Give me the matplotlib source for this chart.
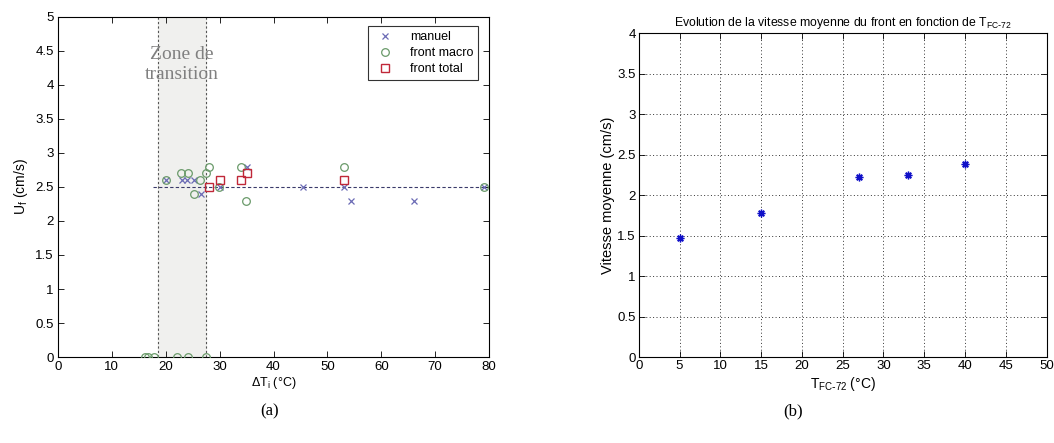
import matplotlib
matplotlib.use("Agg")
import matplotlib.pyplot as plt

# ---- data (a) ----
manuel_x = [20, 23, 24, 25.3, 26.6, 30, 35, 45.5, 53, 54.3, 66, 79]
manuel_y = [2.6, 2.6, 2.6, 2.6, 2.4, 2.5, 2.8, 2.5, 2.5, 2.3, 2.3, 2.5]
macro_x = [20, 22.8, 24.2, 25.3, 26.3, 27.4, 28, 29.9, 33.9, 34.9, 53, 79,
           16.2, 16.8, 17.8, 22, 24.1, 27.4]
macro_y = [2.6, 2.7, 2.7, 2.4, 2.6, 2.7, 2.8, 2.5, 2.8, 2.3, 2.8, 2.5,
           0, 0, 0, 0, 0, 0]
total_x = [28, 30, 34, 35, 53]
total_y = [2.5, 2.6, 2.6, 2.7, 2.6]
mean_level = 2.5
zone_bounds = [18.5, 27.5]

# ---- data (b) ----
tfc = [5, 15, 27, 33, 40]
vit = [1.47, 1.78, 2.22, 2.25, 2.38]

fig = plt.figure(figsize=(10.54, 4.43), dpi=100)
plt.rcParams['font.family'] = ['Liberation Sans', 'DejaVu Sans']

# ---------- (a) ----------
ax1 = fig.add_axes([0.055, 0.194, 0.409, 0.768])
ax1.axvspan(zone_bounds[0], zone_bounds[1], color='#f0f0ee', zorder=0)
for xb in zone_bounds:
    ax1.axvline(xb, color='#555555', ls=(0, (2, 2)), lw=0.8, zorder=1)
ax1.plot([17.6, 80], [mean_level, mean_level], color='#3a3a6a', ls=(0, (3, 2)), lw=0.8, zorder=1)
ax1.plot(manuel_x, manuel_y, ls='none', marker='x', ms=5, mew=0.9, color='#6b6bb5', label='manuel', zorder=3)
ax1.plot(macro_x, macro_y, ls='none', marker='o', ms=5.5, mew=0.9, mfc='none', mec='#6a9a6a', label='front macro', zorder=3)
ax1.plot(total_x, total_y, ls='none', marker='s', ms=5.5, mew=1.0, mfc='none', mec='#c02838', label='front total', zorder=4)
ax1.text(23, 4.3, 'Zone de\ntransition', family='Liberation Serif', fontsize=14,
         color='#808080', ha='center', va='center', linespacing=1.2)
ax1.set_xlim(0, 80)
ax1.set_ylim(0, 5)
ax1.set_xticks(range(0, 81, 10))
ax1.set_yticks([i * 0.5 for i in range(11)])
ax1.set_yticklabels(['0', '0.5', '1', '1.5', '2', '2.5', '3', '3.5', '4', '4.5', '5'])
ax1.tick_params(direction='in', top=True, right=True, labelsize=9.5, length=4, width=0.6, pad=3)
ax1.set_xlabel('ΔT$_\\mathregular{i}$ (°C)', fontsize=9, labelpad=1)
ax1.set_ylabel('U$_\\mathregular{f}$ (cm/s)', fontsize=10, labelpad=4)
leg = ax1.legend(loc='upper right', fontsize=9, frameon=True, fancybox=False,
                 edgecolor='black', borderpad=0.4, handletextpad=1.0, labelspacing=0.3,
                 bbox_to_anchor=(0.99, 0.99))
leg.get_frame().set_linewidth(0.8)
for sp in ax1.spines.values():
    sp.set_linewidth(0.8)

# ---------- (b) ----------
ax2 = fig.add_axes([0.606, 0.194, 0.387, 0.7315])
ax2.plot(tfc, vit, ls='none', marker=(8, 2, 0), ms=5.5, mew=1.0, color='#1010c8', zorder=3)
ax2.set_xlim(0, 50)
ax2.set_ylim(0, 4)
ax2.set_xticks(range(0, 51, 5))
ax2.set_yticks([i * 0.5 for i in range(9)])
ax2.set_yticklabels(['0', '0.5', '1', '1.5', '2', '2.5', '3', '3.5', '4'])
ax2.grid(True, ls=(0, (1, 2.5)), color='#333333', lw=0.7)
ax2.tick_params(direction='in', top=True, right=True, labelsize=9.5, length=4, width=0.6, pad=2)
ax2.set_title('Evolution de la vitesse moyenne du front en fonction de T$_\\mathregular{FC\\text{-}72}$', fontsize=8.8, pad=5)
ax2.set_xlabel('T$_\\mathregular{FC\\text{-}72}$ (°C)', fontsize=10, labelpad=2)
ax2.set_ylabel('Vitesse moyenne (cm/s)', fontsize=10.5, labelpad=2)
for sp in ax2.spines.values():
    sp.set_linewidth(0.8)

fig.text(0.256, 0.072, '(a)', family='Liberation Serif', fontsize=12, ha='center', va='center')
fig.text(0.752, 0.072, '(b)', family='Liberation Serif', fontsize=12, ha='center', va='center')

fig.savefig('out.png', dpi=100)
